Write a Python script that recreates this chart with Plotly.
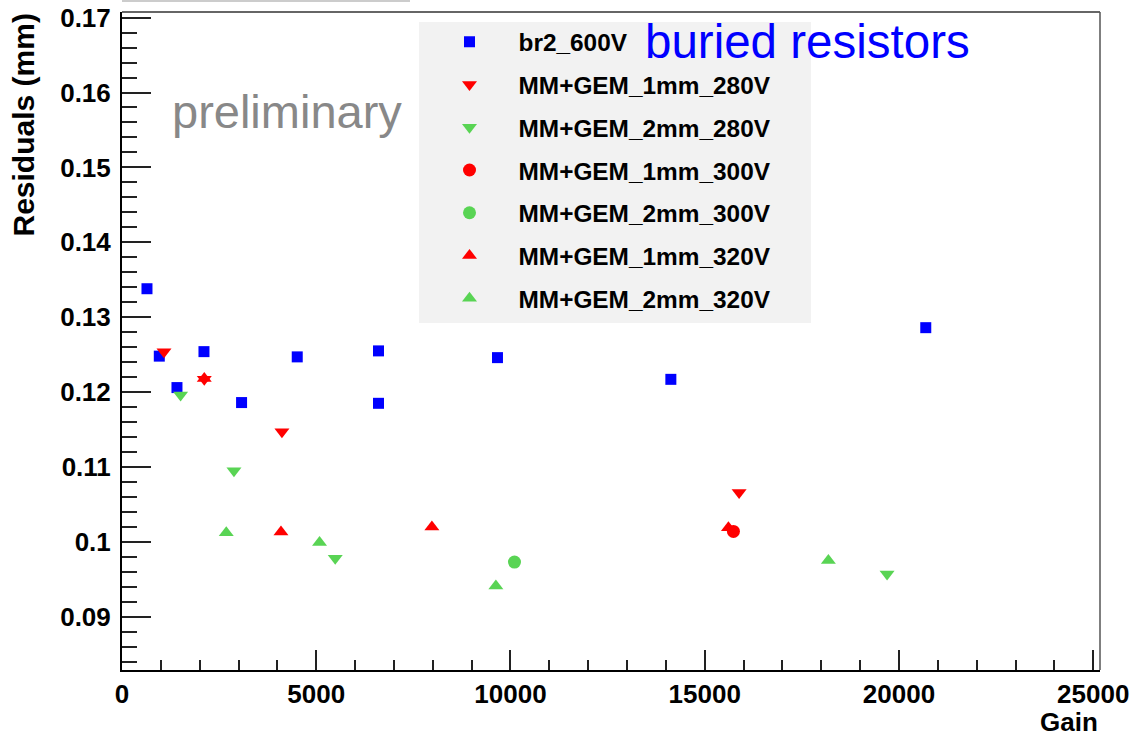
import plotly.graph_objects as go

# ---------------- data ----------------
br2_gain = [643, 960, 1415, 2110, 3078, 4511, 6603, 6603, 9665, 14128, 20690]
br2_res = [0.1338, 0.1248, 0.1206, 0.1254, 0.1186, 0.1247, 0.1255, 0.1185, 0.1246, 0.1217, 0.1286]

g1_280_gain = [1081, 2118, 4117, 15885]
g1_280_res = [0.1254, 0.1217, 0.1147, 0.1066]

g2_280_gain = [1508, 2882, 5489, 19694]
g2_280_res = [0.1196, 0.1095, 0.0978, 0.0957]

g1_300_gain = [15739]
g1_300_res = [0.1014]

g2_300_gain = [10103]
g2_300_res = [0.0973]

g1_320_gain = [2118, 4092, 7977, 15610]
g1_320_res = [0.1218, 0.1013, 0.1020, 0.1019]

g2_320_gain = [2684, 5085, 9624, 18183]
g2_320_res = [0.1012, 0.0999, 0.0941, 0.0975]

series_names = ["br2_600V", "MM+GEM_1mm_280V", "MM+GEM_2mm_280V", "MM+GEM_1mm_300V",
                "MM+GEM_2mm_300V", "MM+GEM_1mm_320V", "MM+GEM_2mm_320V"]

x_range = [0, 25175]
y_range = [0.08289, 0.17075]

# ---------------- style ----------------
BLUE = "#0000ff"
RED = "#ff0000"
GREEN = "#59d454"
FONT = "Liberation Sans"

W, H = 1132, 741
ML, MR, MT, MB = 122, 32, 12, 71
PW, PH = W - ML - MR, H - MT - MB


def px_x(p):
    return (p - ML) / PW


def px_y(p):
    return (H - MB - p) / PH


series = [
    (br2_gain, br2_res, "square", BLUE, 11),
    (g1_280_gain, g1_280_res, "triangle-down", RED, 13),
    (g2_280_gain, g2_280_res, "triangle-down", GREEN, 13),
    (g1_300_gain, g1_300_res, "circle", RED, 13),
    (g2_300_gain, g2_300_res, "circle", GREEN, 13),
    (g1_320_gain, g1_320_res, "triangle-up", RED, 13),
    (g2_320_gain, g2_320_res, "triangle-up", GREEN, 13),
]

fig = go.Figure()
for i, (xs, ys, sym, col, sz) in enumerate(series):
    fig.add_trace(go.Scatter(
        x=xs, y=ys, mode="markers", name=series_names[i],
        legendgroup=f"g{i}",
        marker=dict(symbol=sym, color=col, size=sz, line=dict(width=0)),
        cliponaxis=False,
    ))

axis_common = dict(
    showgrid=False, zeroline=False, showline=True, linecolor="black", linewidth=2,
    ticks="inside", tickcolor="#222222", tickwidth=1.5, automargin=False,
    tickfont=dict(family=FONT, size=26, color="black", weight="bold"),
)

fig.update_xaxes(range=x_range, dtick=5000, tick0=0, ticklen=20, tickformat="d",
                 minor=dict(dtick=1000, ticks="inside", ticklen=10, tickcolor="#222222", tickwidth=1.5),
                 ticklabelstandoff=0, **axis_common)
fig.update_yaxes(range=y_range, dtick=0.01, tick0=0.09, ticklen=29,
                 minor=dict(dtick=0.002, ticks="inside", ticklen=15, tickcolor="#222222", tickwidth=1.5),
                 ticklabelstandoff=4, **axis_common)

shapes = [
    # legend background box
    dict(type="rect", xref="paper", yref="paper", x0=px_x(419), x1=px_x(811), y0=px_y(323), y1=px_y(22),
         fillcolor="#f2f2f2", line=dict(width=0), layer="below"),
    # top frame
    dict(type="line", xref="paper", yref="paper", x0=0, x1=1, y0=1, y1=1, line=dict(color="#333333", width=1.5)),
    # right frame
    dict(type="line", xref="paper", yref="paper", x0=1, x1=1, y0=0, y1=1, line=dict(color="#555555", width=1.5)),
    # faint line at very top left
    dict(type="line", xref="paper", yref="paper", x0=0, x1=px_x(410), y0=px_y(1), y1=px_y(1),
         line=dict(color="#cccccc", width=2)),
]

annotations = [
    dict(text="Residuals (mm)", textangle=-90, xref="paper", yref="paper", x=px_x(23), y=px_y(12),
         xanchor="center", yanchor="top", showarrow=False,
         font=dict(family=FONT, size=30, color="black", weight="bold")),
    dict(text="Gain", xref="paper", yref="paper", x=1.0, y=px_y(722), xanchor="right", yanchor="middle",
         showarrow=False, font=dict(family=FONT, size=26, color="black", weight="bold")),
    dict(text="preliminary", xref="paper", yref="paper", x=px_x(170), y=px_y(112), xanchor="left",
         yanchor="middle", showarrow=False, font=dict(family=FONT, size=47, color="#888888")),
    dict(text="buried resistors", xref="paper", yref="paper", x=px_x(643), y=px_y(41), xanchor="left",
         yanchor="middle", showarrow=False, font=dict(family=FONT, size=47.5, color=BLUE)),
]

fig.update_layout(
    width=W, height=H,
    margin=dict(l=ML, r=MR, t=MT, b=MB, autoexpand=False),
    paper_bgcolor="white", plot_bgcolor="white",
    showlegend=True,
    legend=dict(x=px_x(420.5), y=px_y(19.5), xanchor="left", yanchor="top",
                bgcolor="rgba(0,0,0,0)", borderwidth=0, itemwidth=88,
                tracegroupgap=8, traceorder="grouped",
                font=dict(family=FONT, size=24.4, color="black", weight="bold")),
    shapes=shapes,
    annotations=annotations,
)

fig.write_html("out.html")
